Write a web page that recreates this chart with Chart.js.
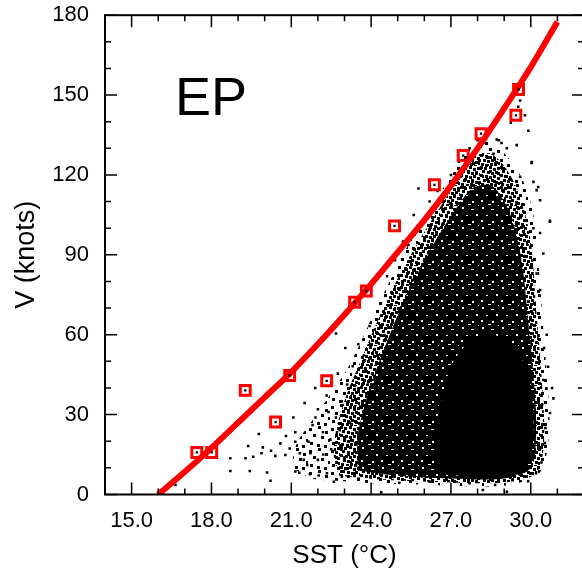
<!DOCTYPE html>
<html><head><meta charset="utf-8">
<script src="https://cdn.jsdelivr.net/npm/chart.js@4/dist/chart.umd.min.js"></script>
<style>
html,body{margin:0;padding:0;background:#fff;overflow:hidden;}
#wrap{width:582px;height:575px;overflow:hidden;position:relative;}
canvas{display:block;position:absolute;left:0;top:-14px;}
</style></head><body>
<div id="wrap"><canvas id="c" width="600" height="589"></canvas></div>
<script>
// ---- axis ticks ----
const xTickValues = [15, 18, 21, 24, 27, 30];
const xTickLabels = ["15.0", "18.0", "21.0", "24.0", "27.0", "30.0"];
const yTickValues = [0, 30, 60, 90, 120, 150, 180];
const yTickLabels = ["0", "30", "60", "90", "120", "150", "180"];
const panelLabel = "EP";

// ---- red fitted curve (SST, V) ----
const fitSST = [16, 17, 18, 19, 20, 21, 22, 23, 24, 25, 26, 27, 28, 29, 30, 31];
const fitV   = [0, 8.5, 17.5, 27, 36.5, 46, 56.5, 67.5, 79, 91, 103, 116, 130, 145, 160.5, 177.5];

// ---- red boxed maxima ----
const peakSST = [17.45, 18.01, 19.27, 20.41, 20.94, 22.33, 23.38, 23.82, 24.88, 26.38, 27.46, 28.13, 29.54, 29.44];
const peakV   = [15.8, 15.8, 39.1, 27.2, 44.7, 42.7, 72.2, 76.4, 100.9, 116.3, 127.3, 135.5, 152.1, 142.4];

// ---- individual scattered observations (outside the dense cloud) ----
const obsSST = [16.65, 18.71, 18.71, 19.28, 19.57, 19.44, 19.38, 20.09, 20.22, 19.93, 19.88, 20.24, 20.4, 20.59, 20.78, 20.94,
  21.15, 21.3, 21.32, 21.47, 21.6, 21.7, 22.03, 22.0, 21.72, 21.65, 21.15,
  19.78, 20.8, 21.08, 21.15, 21.5, 21.8, 21.91, 22.19, 22.33, 22.47, 22.68, 22.68, 22.75, 22.82, 23.03, 23.1, 23.31, 23.52, 23.59, 23.73, 23.87, 23.94,
  22.6, 22.9, 22.34, 24.38, 25.06, 25.9, 26.2, 27.7, 28.2, 28.66, 29.1,
  22.0, 22.4, 22.9, 23.2, 22.5, 23.0, 22.2, 21.9, 22.5,
  25.78, 25.4, 24.6, 24.9, 25.2, 25.6, 26.2, 26.5, 27.0, 27.3, 27.7, 28.0, 28.3, 28.8, 29.1, 28.6,
  29.6, 29.53, 29.78, 29.25, 29.91, 29.47, 28.72, 28.9, 30.04, 29.6, 30.1, 30.22, 30.72, 30.1, 30.35, 30.47,
  30.72, 30.35, 30.28, 30.22, 30.35, 30.47, 30.85, 30.72, 30.53, 30.03, 30.6, 30.5, 30.65, 30.8, 30.55, 30.4, 30.2, 29.9];
const obsV = [3.6, 13.6, 8.8, 13.6, 14.2, 8.8, 18.2, 8.3, 5.2, 17.7, 15.5, 16.4, 14.5, 19.2, 14.8, 17.3,
  8.6, 8.2, 15.5, 13, 11.1, 7.6, 7.1, 13, 15.5, 19.8, 19.8,
  22.7, 22.0, 28.9, 23.4, 34.4, 26.1, 28.9, 23.4, 37.2, 20.6, 60.5, 28.9, 45.4, 24.1, 55, 41.3, 48.2, 56.4, 33, 52.3, 41.3, 63.3,
  4.8, 6.7, 8, 0.8, 4.4, 6.9, 4.8, 4.2, 1.7, 3.6, 1,
  32, 31, 35, 27, 17, 14, 15, 40, 42,
  114.9, 93.7, 82, 88, 95, 105, 110, 114, 120, 125, 130, 133, 132, 133, 130, 128,
  148, 145.6, 142.4, 139.6, 136.6, 131.2, 133.3, 132, 124.9, 119.3, 117.4, 114.3, 102.4, 100, 98.2, 90.5,
  102.8, 110.5, 115.5, 83, 76.8, 43, 36.1, 30.6, 19.3, 124.5, 60, 55, 48, 40, 25, 12, 8, 5];

// ---- outlines of the point cloud, by density level ----
const sparseSST = [21.0, 21.8, 23.0, 24.5, 26.5, 28.5, 29.6, 30.4, 30.7, 30.6, 30.45, 30.3, 30.1, 29.7, 29.1, 28.4, 27.8, 27.3, 26.7, 26.0, 25.3, 24.7, 24.1, 23.6, 23.1, 22.5, 21.8, 21.2, 21.0];
const sparseV   = [10, 6, 5, 4, 3.5, 3, 4.5, 9, 25, 45, 65, 85, 105, 118, 127, 133, 131, 124, 115, 104, 92, 80, 68, 57, 47, 38, 28, 19, 10];
const mediumSST = [22.8, 24.5, 27.0, 29.0, 30.2, 30.5, 30.4, 30.2, 30.0, 29.6, 29.1, 28.5, 27.9, 27.3, 26.6, 25.9, 25.2, 24.6, 24.1, 23.6, 23.1, 22.7, 22.6, 22.8];
const mediumV   = [7, 5.5, 4.5, 4.5, 8, 20, 45, 70, 95, 112, 122, 128, 127, 119, 108, 97, 85, 73, 62, 50, 38, 25, 14, 7];
const denseSST  = [23.5, 25.0, 27.0, 29.0, 30.0, 30.2, 30.1, 29.9, 29.7, 29.4, 29.0, 28.5, 27.8, 27.1, 26.4, 25.8, 25.2, 24.7, 24.2, 23.8, 23.5, 23.5];
const denseV    = [9, 7, 6, 6, 10, 25, 45, 65, 85, 100, 110, 116, 115, 106, 95, 84, 72, 60, 47, 35, 22, 9];
const coreSST   = [26.5, 28.0, 29.5, 30.0, 30.1, 29.9, 29.4, 28.6, 27.8, 27.1, 26.7, 26.4, 26.5];
const coreV     = [8, 6.5, 7.5, 14, 30, 45, 55, 60, 58, 50, 38, 22, 8];

const pts = (xs, ys) => xs.map((x, i) => ({x: x, y: ys[i]}));

function dotPattern(size, dots, dotSize, bg, fg) {
  const c = document.createElement('canvas');
  c.width = size; c.height = size;
  const g = c.getContext('2d');
  if (bg) { g.fillStyle = bg; g.fillRect(0, 0, size, size); }
  g.fillStyle = fg;
  dots.forEach(d => g.fillRect(d[0], d[1], d[2] || dotSize, d[3] || dotSize));
  return g.createPattern(c, 'repeat');
}
const patSparse = dotPattern(22, [[1,2],[10,0],[17,5],[5,8],[13,10],[20,13],[2,16],[9,18],[16,19]], 3, null, '#000');
const patMedium = dotPattern(20, [[0,0],[4,1],[9,0],[13,2],[17,1],[2,4],[7,5],[11,6],[15,5],[19,7],[0,8],[5,9],[9,10],[13,9],[17,11],[3,13],[7,14],[11,13],[15,15],[1,17],[6,18],[10,17],[14,19],[18,16]], 3, null, '#000');
const patDense  = dotPattern(20, [[2,1,2,2],[11,3,3,1],[16,8,2,2],[6,9,2,1],[1,14,2,2],[12,15,2,2],[8,18,3,1],[18,19,1,1]], 2, '#000', '#fff');

const FONT = '"Liberation Sans", Arial, Helvetica, sans-serif';

const framePlugin = {
  id: 'frame',
  afterDraw(chart) {
    const {ctx, chartArea: a, scales: {x, y}} = chart;
    ctx.save();
    ctx.strokeStyle = '#000';
    ctx.lineWidth = 1.5;
    ctx.beginPath();
    for (let v = Math.ceil(x.min); v <= x.max; v += 1) {
      const px = x.getPixelForValue(v);
      const len = xTickValues.includes(v) ? 12 : 6;
      ctx.moveTo(px, a.bottom); ctx.lineTo(px, a.bottom - len);
      ctx.moveTo(px, a.top); ctx.lineTo(px, a.top + len);
    }
    for (let v = y.min; v <= y.max; v += 10) {
      const py = y.getPixelForValue(v);
      const len = yTickValues.includes(v) ? 12 : 6;
      ctx.moveTo(a.left, py); ctx.lineTo(a.left + len, py);
      ctx.moveTo(a.right, py); ctx.lineTo(a.right - len, py);
    }
    ctx.stroke();
    ctx.lineWidth = 2;
    ctx.strokeRect(a.left, a.top, a.right - a.left, a.bottom - a.top);
    ctx.fillStyle = '#000';
    ctx.font = '54px ' + FONT;
    ctx.textBaseline = 'alphabetic';
    ctx.fillText(panelLabel, 175, y.getPixelForValue(142.5));
    ctx.restore();
  }
};

new Chart(document.getElementById('c'), {
  type: 'line',
  data: {
    datasets: [
      { label: 'maxima dots', data: pts(peakSST, peakV), showLine: false, pointStyle: 'rect', pointRadius: 1.6,
        pointBackgroundColor: '#000', pointBorderWidth: 0 },
      { label: 'maxima', data: pts(peakSST, peakV), showLine: false, pointStyle: 'rect', pointRadius: 7,
        pointBackgroundColor: 'rgba(0,0,0,0)', pointBorderColor: '#ff0000', pointBorderWidth: 3 },
      { label: 'fit', data: pts(fitSST, fitV), borderColor: '#ff0000', borderWidth: 6, pointRadius: 0,
        tension: 0.4, cubicInterpolationMode: 'monotone', fill: false, borderCapStyle: 'butt' },
      { label: 'obs', data: pts(obsSST, obsV), showLine: false, pointStyle: 'rect', pointRadius: 1.8,
        pointBackgroundColor: '#000', pointBorderWidth: 0 },
      { label: 'core', data: pts(coreSST, coreV), fill: 'shape', backgroundColor: '#000', borderWidth: 0, pointRadius: 0, tension: 0.3 },
      { label: 'dense', data: pts(denseSST, denseV), fill: 'shape', backgroundColor: patDense, borderWidth: 0, pointRadius: 0, tension: 0.3 },
      { label: 'medium', data: pts(mediumSST, mediumV), fill: 'shape', backgroundColor: patMedium, borderWidth: 0, pointRadius: 0, tension: 0.3 },
      { label: 'sparse', data: pts(sparseSST, sparseV), fill: 'shape', backgroundColor: patSparse, borderWidth: 0, pointRadius: 0, tension: 0.3 }
    ]
  },
  options: {
    responsive: false,
    animation: false,
    devicePixelRatio: 1,
    layout: { padding: { top: 2, right: 16, left: 0, bottom: 0 } },
    plugins: { legend: { display: false }, tooltip: { enabled: false } },
    scales: {
      x: {
        type: 'linear', min: 14, max: 32,
        grid: { display: false, drawTicks: false },
        border: { display: false },
        afterBuildTicks: s => { s.ticks = xTickValues.map(v => ({value: v})); },
        afterFit: s => { s.height = 80.5; },
        ticks: { padding: 13, color: '#000', font: { family: FONT, size: 22 },
          callback: v => xTickLabels[xTickValues.indexOf(v)] },
        title: { display: true, text: 'SST (°C)', color: '#000', font: { family: FONT, size: 26 }, padding: { top: 0, bottom: 4 } }
      },
      y: {
        type: 'linear', min: 0, max: 180,
        grid: { display: false, drawTicks: false },
        border: { display: false },
        afterBuildTicks: s => { s.ticks = yTickValues.map(v => ({value: v})); },
        afterFit: s => { s.width = 105; },
        ticks: { padding: 16, color: '#000', font: { family: FONT, size: 22 },
          callback: v => yTickLabels[yTickValues.indexOf(v)] },
        title: { display: true, text: 'V (knots)', color: '#000', font: { family: FONT, size: 27 }, padding: { top: 10, bottom: 0 } }
      }
    }
  },
  plugins: [framePlugin]
});
</script>
</body></html>
